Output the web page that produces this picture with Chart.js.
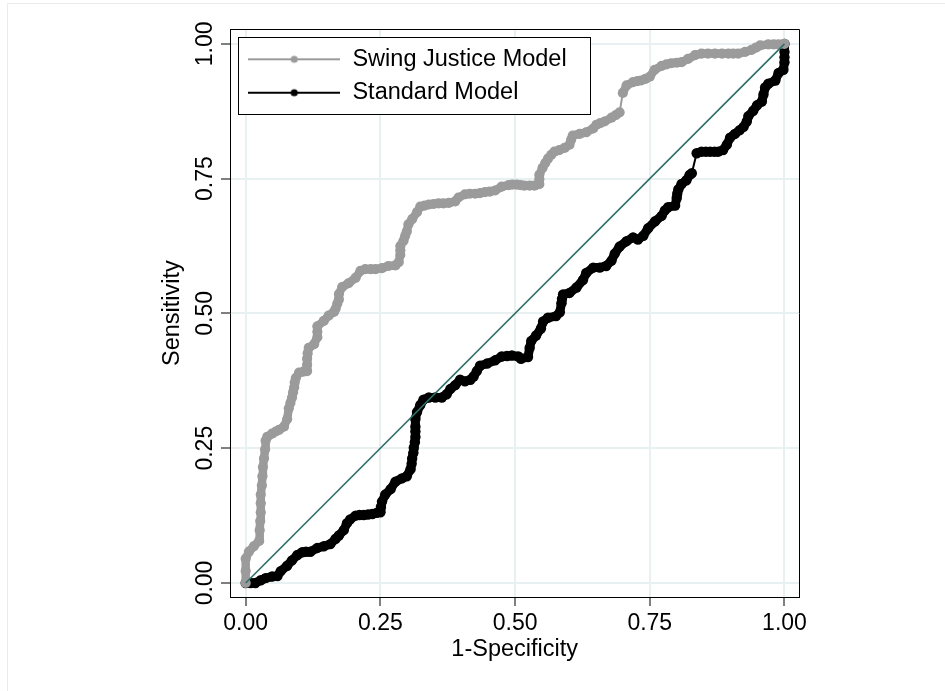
<!DOCTYPE html>
<html><head><meta charset="utf-8">
<script src="https://cdn.jsdelivr.net/npm/chart.js@4/dist/chart.umd.min.js"></script>
<style>html,body{margin:0;padding:0;background:#fff;}#wrap{width:945px;height:691px;position:relative;}</style>
</head><body><div id="wrap"><canvas id="c" width="945" height="691"></canvas></div>
<script>
const seriesNames = ["Swing Justice Model", "Standard Model"];
const xTitle = "1-Specificity";
const yTitle = "Sensitivity";
const tickValues = [0, 0.25, 0.5, 0.75, 1];

const swingX = [0,0,0,0.006,0.015,0.025,0.026,0.027,0.028,0.028,0.028,0.030,0.031,0.032,0.034,0.036,0.037,0.040,0.049,0.056,0.062,0.071,0.077,0.080,0.083,0.086,0.088,0.090,0.091,0.093,0.099,0.107,0.114,0.114,0.114,0.115,0.117,0.127,0.133,0.133,0.133,0.145,0.154,0.164,0.167,0.170,0.173,0.173,0.179,0.191,0.204,0.213,0.222,0.232,0.241,0.253,0.265,0.278,0.284,0.287,0.287,0.287,0.293,0.296,0.299,0.302,0.309,0.318,0.324,0.332,0.340,0.349,0.358,0.367,0.377,0.389,0.395,0.407,0.416,0.426,0.435,0.444,0.453,0.463,0.475,0.488,0.495,0.503,0.510,0.517,0.527,0.536,0.545,0.545,0.545,0.551,0.556,0.561,0.567,0.573,0.582,0.592,0.601,0.604,0.607,0.620,0.632,0.645,0.651,0.658,0.666,0.679,0.687,0.694,0.700,0.707,0.719,0.727,0.734,0.742,0.750,0.759,0.772,0.781,0.790,0.800,0.809,0.821,0.834,0.846,0.858,0.871,0.884,0.896,0.905,0.914,0.927,0.939,0.947,0.955,0.970,0.980,0.989,1];
const swingY = [0,0.022,0.045,0.058,0.068,0.078,0.098,0.115,0.131,0.148,0.164,0.181,0.198,0.215,0.231,0.248,0.264,0.271,0.277,0.281,0.284,0.290,0.304,0.324,0.334,0.344,0.354,0.363,0.372,0.380,0.390,0.392,0.393,0.405,0.416,0.426,0.436,0.443,0.456,0.466,0.476,0.486,0.496,0.503,0.509,0.518,0.526,0.536,0.549,0.556,0.566,0.579,0.582,0.582,0.582,0.584,0.588,0.589,0.595,0.609,0.617,0.625,0.635,0.644,0.652,0.665,0.675,0.688,0.698,0.700,0.702,0.703,0.704,0.704,0.705,0.708,0.715,0.721,0.722,0.722,0.723,0.725,0.726,0.728,0.735,0.738,0.739,0.739,0.738,0.737,0.737,0.737,0.740,0.749,0.757,0.770,0.779,0.787,0.794,0.800,0.803,0.807,0.813,0.822,0.830,0.833,0.836,0.843,0.850,0.853,0.856,0.863,0.868,0.873,0.909,0.923,0.929,0.931,0.932,0.935,0.939,0.952,0.959,0.962,0.964,0.965,0.966,0.972,0.979,0.982,0.982,0.982,0.982,0.982,0.982,0.982,0.985,0.989,0.993,0.997,0.999,0.999,0.999,1];

const standardX = [0,0.009,0.018,0.028,0.037,0.049,0.059,0.065,0.077,0.086,0.096,0.105,0.112,0.120,0.133,0.145,0.157,0.167,0.173,0.182,0.188,0.194,0.204,0.211,0.219,0.227,0.235,0.243,0.250,0.251,0.253,0.259,0.269,0.278,0.290,0.299,0.306,0.308,0.309,0.311,0.312,0.314,0.315,0.315,0.315,0.315,0.318,0.324,0.330,0.340,0.352,0.364,0.373,0.380,0.389,0.398,0.407,0.417,0.423,0.429,0.435,0.448,0.463,0.475,0.485,0.494,0.506,0.511,0.524,0.527,0.530,0.539,0.548,0.552,0.561,0.576,0.583,0.586,0.587,0.589,0.601,0.614,0.626,0.632,0.645,0.657,0.669,0.679,0.685,0.694,0.707,0.719,0.728,0.738,0.747,0.760,0.772,0.778,0.784,0.797,0.800,0.801,0.803,0.809,0.818,0.824,0.828,0.837,0.846,0.854,0.862,0.870,0.877,0.886,0.893,0.899,0.908,0.917,0.924,0.930,0.933,0.942,0.949,0.958,0.961,0.964,0.970,0.983,0.989,0.998,1,1,1,1];
const standardY = [0,0,0,0.005,0.009,0.012,0.013,0.022,0.032,0.042,0.052,0.057,0.058,0.058,0.065,0.068,0.072,0.082,0.088,0.098,0.111,0.118,0.125,0.126,0.126,0.127,0.128,0.130,0.131,0.141,0.151,0.164,0.174,0.188,0.194,0.198,0.211,0.221,0.231,0.241,0.251,0.261,0.271,0.281,0.290,0.304,0.317,0.330,0.340,0.344,0.344,0.344,0.350,0.360,0.367,0.377,0.374,0.377,0.383,0.393,0.403,0.407,0.413,0.420,0.421,0.422,0.420,0.416,0.419,0.436,0.449,0.459,0.472,0.485,0.492,0.495,0.502,0.519,0.527,0.535,0.538,0.548,0.562,0.575,0.585,0.585,0.588,0.598,0.611,0.624,0.634,0.641,0.637,0.644,0.658,0.671,0.681,0.691,0.697,0.700,0.714,0.722,0.730,0.740,0.747,0.757,0.760,0.797,0.800,0.800,0.800,0.800,0.800,0.803,0.813,0.826,0.833,0.840,0.846,0.856,0.866,0.876,0.886,0.893,0.906,0.919,0.926,0.932,0.946,0.952,0.966,0.975,0.985,1];

const refX = [0, 1];
const refY = [0, 1];

const FONT = "'Liberation Sans', Arial, Helvetica, sans-serif";
const GRAY = '#9b9b9b';
const TEAL = '#2e6f68';

function pts(xs, ys) { return xs.map((x, i) => ({x: x, y: ys[i]})); }

// markers overlap into a band where points are dense; sparse steps show the thin connecting line
function segWidth(thick) {
  return (ctx) => {
    const dx = ctx.p1.x - ctx.p0.x, dy = ctx.p1.y - ctx.p0.y;
    return Math.sqrt(dx * dx + dy * dy) < 15 ? thick : 2;
  };
}

function legendSymbol(color) {
  const c = document.createElement('canvas');
  c.width = 92; c.height = 10;
  const g = c.getContext('2d');
  g.strokeStyle = color; g.lineWidth = 2;
  g.beginPath(); g.moveTo(0, 5); g.lineTo(92, 5); g.stroke();
  g.fillStyle = color; g.beginPath(); g.arc(46, 5, 3.6, 0, Math.PI * 2); g.fill();
  return c;
}
const symbols = [legendSymbol(GRAY), legendSymbol('#000')];

const framePlugin = {
  id: 'frame',
  beforeDraw(chart) {
    const ctx = chart.ctx;
    ctx.save();
    ctx.fillStyle = '#fff'; ctx.fillRect(0, 0, chart.width, chart.height);
    ctx.strokeStyle = '#ebebeb'; ctx.lineWidth = 1;
    ctx.beginPath(); ctx.moveTo(7.5, chart.height); ctx.lineTo(7.5, 3.5); ctx.lineTo(chart.width, 3.5); ctx.stroke();
    ctx.restore();
  },
  afterLayout(chart) {
    if (chart.legend) {
      chart.legend.left = chart.chartArea.left + 7.8;
      chart.legend.top = chart.chartArea.top + 8.35;
    }
  },
  afterDatasetsDraw(chart) {
    const ctx = chart.ctx, ca = chart.chartArea;
    ctx.save();
    ctx.strokeStyle = '#000'; ctx.lineWidth = 1;
    const l = Math.round(ca.left) + 0.5, t = Math.round(ca.top) + 0.5, r = Math.round(ca.right) + 0.5, b = Math.round(ca.bottom) + 0.5;
    ctx.beginPath(); ctx.moveTo(l, t); ctx.lineTo(r, t); ctx.lineTo(r, b); ctx.stroke();
    const lx = Math.round(ca.left + 8) + 0.5, ly = Math.round(ca.top + 8) + 0.5;
    ctx.fillStyle = '#fff'; ctx.fillRect(lx, ly, 352, 77);
    ctx.strokeRect(lx, ly, 352, 77);
    ctx.restore();
    if (chart.legend) chart.legend.draw();
  }
};

Chart.defaults.color = '#000';
Chart.defaults.font.family = FONT;

new Chart(document.getElementById('c'), {
  type: 'line',
  data: {
    datasets: [
      { label: 'reference', data: pts(refX, refY), borderColor: TEAL, borderWidth: 1.6, pointRadius: 0, order: 0 },
      { label: seriesNames[0], data: pts(swingX, swingY), borderColor: GRAY, backgroundColor: GRAY, borderWidth: 2, borderCapStyle: 'round', borderJoinStyle: 'round', segment: { borderWidth: segWidth(8.5) }, pointRadius: 5.1, pointBorderWidth: 0, pointBackgroundColor: GRAY, order: 1 },
      { label: seriesNames[1], data: pts(standardX, standardY), borderColor: '#000', backgroundColor: '#000', borderWidth: 2, borderCapStyle: 'round', borderJoinStyle: 'round', segment: { borderWidth: segWidth(9) }, pointRadius: 5.2, pointBorderWidth: 0, pointBackgroundColor: '#000', order: 2 }
    ]
  },
  options: {
    responsive: false, animation: false, devicePixelRatio: 1, events: [],
    layout: { padding: { left: 150, top: 29.3, right: 145.7, bottom: 0 } },
    plugins: {
      tooltip: { enabled: false },
      legend: {
        position: 'chartArea', align: 'start',
        labels: {
          font: { size: 23.5, family: FONT }, color: '#000', padding: 9.9,
          usePointStyle: true, pointStyleWidth: 93, boxHeight: 23.5,
          filter: (item) => item.datasetIndex !== 0,
          generateLabels: (chart) => {
            const items = Chart.defaults.plugins.legend.labels.generateLabels(chart);
            return items.map((it) => { if (it.datasetIndex > 0) it.pointStyle = symbols[it.datasetIndex - 1]; return it; });
          }
        }
      }
    },
    scales: {
      x: {
        type: 'linear', min: -0.0291, max: 1.0275,
        afterBuildTicks: (s) => { s.ticks = tickValues.map((v) => ({value: v})); },
        afterFit: (s) => { s.height = 94; },
        ticks: { callback: (v) => Number(v).toFixed(2), font: { size: 23, family: FONT }, color: '#000', padding: 4, maxRotation: 0, minRotation: 0 },
        grid: { color: '#e8f0f2', lineWidth: 2, tickColor: '#000', tickLength: 9, tickWidth: 1 },
        border: { display: true, color: '#000', width: 1 },
        title: { display: true, text: xTitle, font: { size: 23.5, family: FONT }, color: '#000', padding: { top: 0, bottom: 27 } }
      },
      y: {
        type: 'linear', min: -0.026, max: 1.027,
        afterBuildTicks: (s) => { s.ticks = tickValues.map((v) => ({value: v})); },
        afterFit: (s) => { s.width = 80; },
        ticks: { callback: (v) => Number(v).toFixed(2), font: { size: 23, family: FONT }, color: '#000', padding: -7.5, minRotation: 90, maxRotation: 90, crossAlign: 'center' },
        grid: { color: '#e8f0f2', lineWidth: 2, tickColor: '#000', tickLength: 9, tickWidth: 1 },
        border: { display: true, color: '#000', width: 1 },
        title: { display: true, text: yTitle, font: { size: 23.5, family: FONT }, color: '#000', padding: { top: 8.9, bottom: 0 } }
      }
    }
  },
  plugins: [framePlugin]
});
</script></body></html>
